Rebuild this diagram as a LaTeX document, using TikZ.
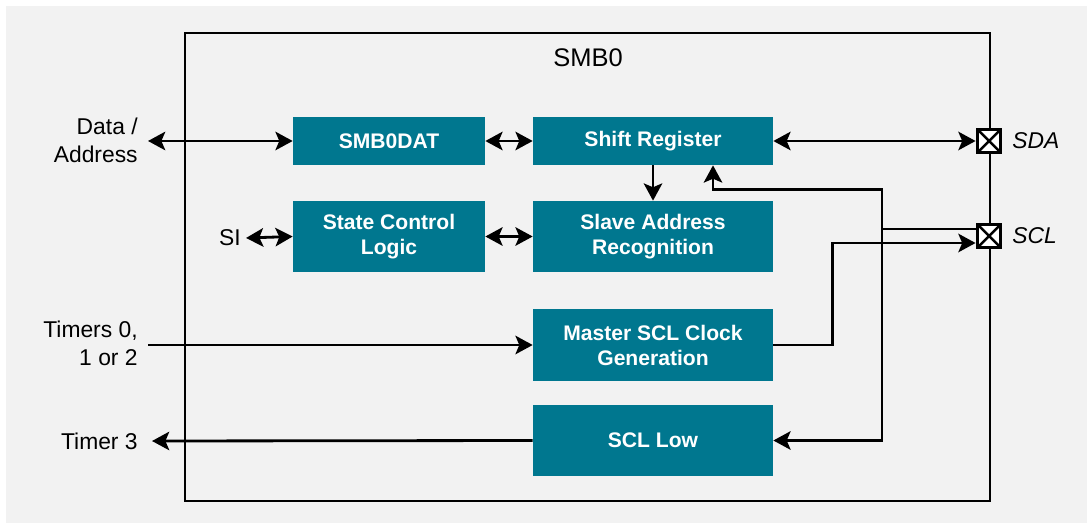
\documentclass[tikz,border=0pt]{standalone}
\usepackage{fontspec}
\setmainfont{Liberation Sans}
\usepackage{tikz}
\usetikzlibrary{arrows.meta, positioning, calc}
\definecolor{smbTeal}{HTML}{00778F}
\definecolor{bgGray}{HTML}{F2F2F2}
\tikzset{
  blockT/.style={rectangle, fill=smbTeal, text=white, inner sep=0pt,
                 font=\fontsize{12}{14.2}\selectfont\bfseries, align=center},
  pinX/.style={rectangle, draw=black, fill=white, line width=2.2pt,
               minimum size=0.46cm, inner sep=0pt,
               path picture={\draw[line width=1.4pt]
                 (path picture bounding box.north west) -- (path picture bounding box.south east)
                 (path picture bounding box.north east) -- (path picture bounding box.south west);}},
  sigL/.style={font=\fontsize{13}{15.9}\selectfont, align=right, inner sep=0pt},
  pinL/.style={font=\fontsize{13}{15.9}\selectfont\itshape, inner sep=0pt},
  wire/.style={draw=black, line width=1.6pt},
  >={Stealth[length=9.8pt, width=10.5pt, inset=2.2pt]},
}

\begin{document}
\begin{tikzpicture}[x=0.02cm, y=-0.02cm]
    \useasboundingbox (0,0) rectangle (1087,523);
    \fill[bgGray] (6,6) rectangle (1087,523);

    %% module frame
    \draw[wire] (185,33) rectangle (990,501);
    \node[font=\fontsize{14.5}{17}\selectfont, inner sep=0pt] (smbT) at (588,57.5) {SMB0};

    %% blocks
    \node[blockT, minimum width=3.84cm, minimum height=0.96cm] (smbdat) at (389,141) {SMB0DAT};
    \node[blockT, minimum width=4.8cm, minimum height=0.96cm] (shift) at (653,141) {Shift Register};
    \node[blockT, minimum width=3.84cm, minimum height=1.42cm] (state) at (389,236.5) {State Control\\Logic};
    \node[blockT, minimum width=4.8cm, minimum height=1.42cm] (slave) at (653,236.5) {Slave Address\\Recognition};
    \node[blockT, minimum width=4.8cm, minimum height=1.44cm] (master) at (653,345) {Master SCL Clock\\Generation};
    \node[blockT, minimum width=4.8cm, minimum height=1.42cm] (scllow) at (653,440.5) {SCL Low};

    %% pins
    \node[pinX] (sdaPin) at (989,141) {};
    \node[pinX] (sclPin) at (989,236) {};
    \node[pinL, anchor=west] (sdaT) at (1012,141) {SDA};
    \node[pinL, anchor=west] (sclT) at (1012,236) {SCL};

    %% outside signals
    \node[sigL, anchor=east] (dataT) at (138,140) {Data /\\Address};
    \node[sigL, anchor=east] (siT) at (241,238) {SI};
    \node[sigL, anchor=east] (timersT) at (138,343.5) {Timers 0,\\1 or 2};
    \node[sigL, anchor=east] (timer3T) at (138,441) {Timer 3};
    \coordinate (dataEnd) at (148,141);
    \coordinate (siEnd) at (246,238);
    \coordinate (timersEnd) at (148,345);
    \coordinate (timer3End) at (152,441);
    \coordinate (tap) at (882,229);

    %% connections
    \draw[wire, <->] (dataEnd) -- (smbdat.west);
    \draw[wire, <->] (smbdat.east) -- (shift.west);
    \draw[wire, <->] (siEnd) -- (state.west);
    \draw[wire, <->] (state.east) -- (slave.west);
    \draw[wire, ->] (shift.south) -- (slave.north);
    \draw[wire, <->] (shift.east) -- (sdaPin.west);
    \draw[wire, ->] (timersEnd) -- (master.west);
    \draw[wire, ->] (scllow.west) -- (timer3End);
    \draw[wire, ->] (master.east) -- ++(59,0) |- ($(sclPin.west)+(0,7)$);
    \draw[wire] ($(sclPin.west)+(0,-7)$) -- (tap);
    \draw[wire, ->] (tap) |- ($(shift.south)+(60,24)$) -- ($(shift.south)+(60,0)$);
    \draw[wire, ->] (tap) |- (scllow.east);
\end{tikzpicture}
\end{document}
